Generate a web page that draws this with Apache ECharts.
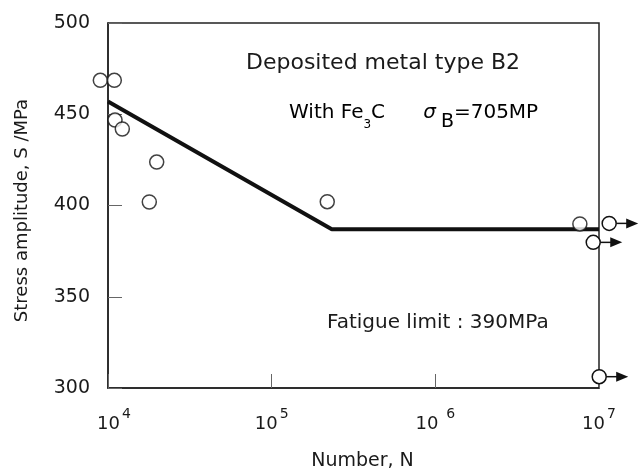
<!DOCTYPE html>
<html>
<head>
    <meta http-equiv="Content-Type" content="text/html; charset=utf-8"/>
    <script type="text/javascript" src="https://cdn.jsdelivr.net/npm/echarts@6/dist/echarts.min.js"></script>
    <style>
        body { margin: 0; background: #fff; }
        #main { width: 639px; height: 473px; }
    </style>
</head>
<body>
<div id="main"></div>
<script type="text/javascript">
    // S-N data
    var failN = [8975, 10930, 11040, 12230, 19840, 17880, 218600, 7640000];
    var failS = [468.6, 468.6, 446.8, 441.9, 423.8, 401.9, 402.1, 389.9];
    // run-outs (no failure, arrow to the right)
    var runoutN = [11540000, 9220000, 10030000];
    var runoutS = [390.2, 379.8, 306.2];
    // fitted S-N line
    var fitN = [10000, 233000, 10000000];
    var fitS = [457, 387, 387];
    // axis tick labels
    var xTickBase = ['10', '10', '10 ', '10'];
    var xTickPow = ['4', '5', '6', '7'];

    var font = 'DejaVu Sans';
    var ink = '#1a1a1a';

    var failData = [];
    for (var i = 0; i < failN.length; i++) failData.push([failN[i], failS[i]]);
    var runoutData = [];
    for (var i = 0; i < runoutN.length; i++) runoutData.push([runoutN[i], runoutS[i]]);
    var fitData = [];
    for (var i = 0; i < fitN.length; i++) fitData.push([fitN[i], fitS[i]]);

    var myChart = echarts.init(document.getElementById('main'));

    option = {
        animation: false,
        grid: {
            left: 108, right: 40, top: 23, bottom: 85,
            outerBoundsMode: 'none',
            show: true,
            borderColor: '#222',
            borderWidth: 1.5
        },
        xAxis: {
            type: 'log',
            logBase: 10,
            min: 10000,
            max: 10000000,
            name: 'Number, N',
            nameLocation: 'middle',
            nameGap: 64,
            nameTextStyle: { fontFamily: font, fontSize: 19, color: ink, padding: [0, 0, 0, 18] },
            axisLine: { lineStyle: { color: '#222', width: 1.5 } },
            axisTick: { inside: true, length: 14, lineStyle: { color: '#666', width: 1 } },
            splitLine: { show: false },
            minorTick: { show: false },
            axisLabel: {
                margin: 19,
                fontFamily: font,
                color: ink,
                formatter: function (v) {
                    var k = Math.round(Math.log(v) / Math.LN10) - 4;
                    var b = k === 0 ? 'b0' : 'b';
                    return '{' + b + '|' + xTickBase[k] + '}{s|' + xTickPow[k] + '}';
                },
                rich: {
                    b: { fontFamily: font, fontSize: 18, color: ink },
                    b0: { fontFamily: font, fontSize: 18, color: ink, padding: [0, 0, 0, 12] },
                    s: { fontFamily: font, fontSize: 14, color: ink, padding: [0, 0, 20, 2] }
                }
            }
        },
        yAxis: {
            type: 'value',
            min: 300,
            max: 500,
            interval: 50,
            name: 'Stress amplitude, S /MPa',
            nameLocation: 'middle',
            nameGap: 77,
            nameTextStyle: { fontFamily: font, fontSize: 18, color: ink, padding: [0, 10, 0, 0] },
            axisLine: { show: true, lineStyle: { color: '#222', width: 1.5 } },
            axisTick: { show: true, inside: true, length: 14, lineStyle: { color: '#666', width: 1 } },
            splitLine: { show: false },
            axisLabel: {
                margin: 18,
                fontFamily: font,
                fontSize: 19,
                color: ink,
                padding: [0, 0, 9, 0]
            }
        },
        graphic: [
            {
                type: 'text', x: 246, y: 63, z: 10,
                style: { text: 'Deposited metal type B2', font: '22px "DejaVu Sans"', fill: ink, align: 'left', verticalAlign: 'middle' }
            },
            {
                type: 'text', x: 289, y: 113, z: 10,
                style: {
                    text: '{n|With Fe}{sub|3}{n|C      }{g|σ}{bb|B}{n|=705MP}',
                    align: 'left', verticalAlign: 'middle',
                    rich: {
                        n: { fontFamily: font, fontSize: 20, color: ink },
                        sub: { fontFamily: font, fontSize: 12, color: ink, padding: [24, 0, 0, 0] },
                        g: { fontFamily: font, fontSize: 20, fontStyle: 'italic', color: ink },
                        bb: { fontFamily: font, fontSize: 19, color: ink, padding: [18, 0, 0, 5] }
                    }
                }
            },
            {
                type: 'text', x: 327, y: 323, z: 10,
                style: { text: 'Fatigue limit : 390MPa', font: '20px "DejaVu Sans"', fill: ink, align: 'left', verticalAlign: 'middle' }
            }
        ],
        series: [{
            name: 'fit',
            type: 'line',
            data: fitData,
            symbol: 'none',
            clip: false,
            z: 2,
            lineStyle: { color: '#111', width: 4 }
        }, {
            name: 'failure',
            type: 'scatter',
            data: failData,
            symbol: 'circle',
            symbolSize: 14,
            clip: false,
            z: 3,
            itemStyle: { color: '#fff', borderColor: '#111', borderWidth: 1.5 }
        }, {
            name: 'runout',
            type: 'custom',
            data: runoutData,
            clip: false,
            z: 4,
            renderItem: function (params, api) {
                var p = api.coord([api.value(0), api.value(1)]);
                return {
                    type: 'group',
                    children: [{
                        type: 'line',
                        shape: { x1: p[0] + 7, y1: p[1], x2: p[0] + 19, y2: p[1] },
                        style: { stroke: '#111', lineWidth: 1.5 }
                    }, {
                        type: 'polygon',
                        shape: { points: [[p[0] + 17, p[1] - 5], [p[0] + 29, p[1]], [p[0] + 17, p[1] + 5]] },
                        style: { fill: '#111' }
                    }, {
                        type: 'circle',
                        shape: { cx: p[0], cy: p[1], r: 7 },
                        style: { fill: '#fff', stroke: '#111', lineWidth: 1.5 }
                    }]
                };
            }
        }]
    };
    myChart.setOption(option);
</script>
</body>
</html>
